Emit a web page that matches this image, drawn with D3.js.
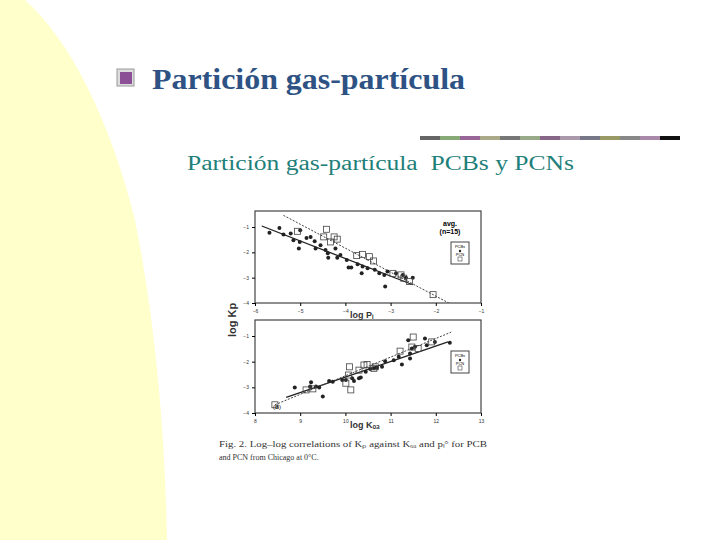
<!DOCTYPE html>
<html><head><meta charset="utf-8">
<script src="https://cdn.jsdelivr.net/npm/d3@7"></script>
<style>body{margin:0;background:#fff}</style>
</head><body>
<svg id="slide" width="720" height="540"></svg>
<script>
// top panel: log Kp vs log PL
var topDots = [[-5.68,-1.23],[-5.46,-1.04],[-5.37,-1.30],[-5.21,-1.26],[-5.15,-1.52],[-5.01,-1.59],[-5.03,-1.85],[-5.00,-1.13],
  [-4.86,-1.43],[-4.77,-1.39],[-4.68,-1.56],[-4.66,-1.85],[-4.55,-1.72],[-4.44,-1.91],[-4.39,-2.04],[-4.38,-2.21],[-4.22,-1.85],
  [-4.18,-2.21],[-4.11,-2.11],[-3.97,-2.30],[-3.93,-2.60],[-3.87,-2.60],[-3.73,-2.47],[-3.64,-2.83],[-3.62,-2.56],[-3.51,-2.63],
  [-3.35,-2.69],[-3.25,-2.83],[-3.14,-2.89],[-3.12,-3.35],[-3.07,-2.76],[-2.88,-2.83],[-2.73,-2.89],[-2.66,-3.00],[-2.51,-3.00]];
var topSquares = [[-5.06,-1.17],[-4.42,-1.09],[-4.48,-1.39],[-4.33,-1.59],[-4.25,-1.39],[-4.18,-1.48],[-3.75,-2.13],[-3.62,-2.08],
  [-3.47,-2.17],[-3.38,-2.34],[-2.95,-2.83],[-2.77,-2.89],[-2.71,-3.02],[-2.58,-3.15],[-2.06,-3.67]];
var topSolid = [[-5.85,-0.96],[-2.51,-3.28]];
var topDashed = [[-5.37,-0.54],[-1.65,-4.06]];
var topTicksX = [-6,-5,-4,-3,-2,-1];
var ticksY = [-1,-2,-3,-4];

// bottom panel: log Kp vs log KOA
var botDots = [[8.88,-3.01],[9.22,-2.97],[9.24,-2.80],[9.35,-2.97],[9.42,-3.01],[9.50,-3.36],[9.64,-2.75],[9.72,-2.78],[9.93,-2.71],
  [10.01,-2.71],[10.15,-2.65],[10.19,-2.75],[10.30,-2.65],[10.34,-2.62],[10.45,-2.39],[10.55,-2.29],[10.63,-2.26],[10.70,-2.24],
  [10.81,-2.20],[10.88,-1.98],[11.07,-1.94],[11.18,-1.81],[11.25,-2.11],[11.39,-1.17],[11.43,-1.68],[11.43,-1.88],[11.47,-1.49],
  [11.54,-1.42],[11.76,-1.10],[11.80,-1.36],[11.98,-1.23],[12.31,-1.26]];
var botSquares = [[8.44,-3.68],[9.13,-3.10],[9.28,-3.06],[10.01,-2.84],[10.07,-2.52],[10.12,-3.10],[10.09,-2.20],[10.30,-2.33],
  [10.41,-2.13],[10.48,-2.11],[10.63,-2.26],[10.66,-2.20],[11.21,-1.59],[11.50,-1.04],[11.47,-1.43],[11.61,-1.49],[11.91,-1.23]];
var botSolid = [[8.69,-3.39],[12.27,-1.23]];
var botDashed = [[8.44,-3.68],[12.34,-0.85]];
var botTicksX = [8,9,10,11,12,13];

var svg = d3.select("#slide");

// yellow curved band on the left
svg.append("path")
  .attr("d", "M0,0 L25,0 C70,40 110,120 135,220 C155,320 165,430 167,540 L0,540 Z")
  .attr("fill", "#ffffcc");

// bullet + title
svg.append("rect").attr("x", 117).attr("y", 69).attr("width", 17).attr("height", 17).attr("fill", "#ddd").attr("stroke", "#999");
svg.append("rect").attr("x", 120).attr("y", 72).attr("width", 12).attr("height", 12).attr("fill", "#8b4f96");
svg.append("text").attr("x", 152).attr("y", 89).text("Partición gas-partícula")
  .attr("font-family", "Liberation Serif").attr("font-weight", "bold").attr("font-size", 29).attr("fill", "#2d5283")
  .attr("textLength", 313).attr("lengthAdjust", "spacingAndGlyphs");

// decorative divider
var divColors = ["#666", "#8a7", "#969", "#aa8", "#777", "#9a8", "#868", "#a9a", "#778", "#996", "#888", "#a8a"];
svg.selectAll(".div").data(divColors).enter().append("rect")
  .attr("x", function(d, i) { return 420 + i * 20; }).attr("y", 136).attr("width", 20).attr("height", 4)
  .attr("fill", function(d) { return d; });
svg.append("rect").attr("x", 660).attr("y", 136).attr("width", 20).attr("height", 4).attr("fill", "#111");

svg.append("text").attr("x", 187).attr("y", 170).text("Partición gas-partícula\u00a0\u00a0PCBs y PCNs")
  .attr("font-family", "Liberation Serif").attr("font-size", 20).attr("fill", "#1f7f7a")
  .attr("textLength", 387).attr("lengthAdjust", "spacingAndGlyphs");

function panel(y0, y1, xDomain, xTicks, dots, squares, solid, dashed, xLabel) {
  var x = d3.scaleLinear().domain(xDomain).range([255, 481]);
  var y = d3.scaleLinear().domain([-1, -4]).range([y0, y1]);
  var top = y0 - 16;
  var g = svg.append("g");
  var clipId = "c" + y0;
  g.append("clipPath").attr("id", clipId).append("rect").attr("x", 255).attr("y", top).attr("width", 226).attr("height", y1 - top);
  g.append("rect").attr("x", 255).attr("y", top).attr("width", 226).attr("height", y1 - top)
    .attr("fill", "#fff").attr("stroke", "#444").attr("stroke-width", 1.2);
  g.append("g").attr("transform", "translate(0," + y1 + ")")
    .call(d3.axisBottom(x).tickValues(xTicks).tickSize(3).tickFormat(d3.format("d")))
    .call(function(a) { a.select(".domain").remove(); a.selectAll("text").attr("font-size", 5).attr("fill", "#333"); });
  g.append("g").attr("transform", "translate(255,0)")
    .call(d3.axisLeft(y).tickValues(ticksY).tickSize(3).tickFormat(d3.format("d")))
    .call(function(a) { a.select(".domain").remove(); a.selectAll("text").attr("font-size", 5).attr("fill", "#333"); });
  var line = d3.line().x(function(d) { return x(d[0]); }).y(function(d) { return y(d[1]); });
  var p = g.append("g").attr("clip-path", "url(#" + clipId + ")");
  p.append("path").attr("d", line(solid)).attr("stroke", "#222").attr("stroke-width", 1.3).attr("fill", "none");
  p.append("path").attr("d", line(dashed)).attr("stroke", "#444").attr("stroke-width", 1).attr("stroke-dasharray", "2,1.5").attr("fill", "none");
  p.selectAll(".dot").data(dots).enter().append("circle")
    .attr("cx", function(d) { return x(d[0]); }).attr("cy", function(d) { return y(d[1]); }).attr("r", 2).attr("fill", "#222");
  p.selectAll(".sq").data(squares).enter().append("rect")
    .attr("x", function(d) { return x(d[0]) - 3; }).attr("y", function(d) { return y(d[1]) - 3; })
    .attr("width", 6).attr("height", 6).attr("fill", "none").attr("stroke", "#444").attr("stroke-width", 0.8);
  // legend box
  g.append("rect").attr("x", 451).attr("y", y0 + 15).attr("width", 18).attr("height", 22).attr("fill", "#fff").attr("stroke", "#444");
  g.append("text").attr("x", 460).attr("y", y0 + 21).attr("text-anchor", "middle").attr("font-size", 4).attr("font-family", "Liberation Sans").text("PCBs");
  g.append("circle").attr("cx", 460).attr("cy", y0 + 24).attr("r", 1.2).attr("fill", "#222");
  g.append("text").attr("x", 460).attr("y", y0 + 29).attr("text-anchor", "middle").attr("font-size", 4).attr("font-family", "Liberation Sans").text("PCN");
  g.append("rect").attr("x", 458).attr("y", y0 + 30).attr("width", 4).attr("height", 4).attr("fill", "none").attr("stroke", "#444").attr("stroke-width", 0.6);
  g.append("text").attr("x", 350).attr("y", y1 + 15).attr("font-size", 9).attr("font-weight", "bold")
    .attr("font-family", "Liberation Sans").attr("fill", "#333").text(xLabel);
  return g;
}

panel(227, 303, [-6, -1], topTicksX, topDots, topSquares, topSolid, topDashed, "log Pₗ");
panel(336, 413, [8, 13], botTicksX, botDots, botSquares, botSolid, botDashed, "log Kₒₐ");

svg.append("text").attr("x", 450).attr("y", 226).attr("font-size", 7).attr("font-weight", "bold")
  .attr("font-family", "Liberation Sans").attr("text-anchor", "middle").text("avg.");
svg.append("text").attr("x", 450).attr("y", 234).attr("font-size", 7).attr("font-weight", "bold")
  .attr("font-family", "Liberation Sans").attr("text-anchor", "middle").text("(n=15)");
svg.append("text").attr("x", 273).attr("y", 409).attr("font-size", 6).attr("font-family", "Liberation Sans").text("(B)");

svg.append("text").attr("transform", "translate(236,320) rotate(-90)").attr("text-anchor", "middle")
  .attr("font-size", 11).attr("font-weight", "bold").attr("font-family", "Liberation Sans").attr("fill", "#333").text("log Kp");

svg.append("text").attr("x", 219).attr("y", 447).attr("font-size", 8).attr("font-family", "Liberation Serif").attr("fill", "#333")
  .attr("textLength", 268).attr("lengthAdjust", "spacingAndGlyphs")
  .text("Fig. 2. Log–log correlations of Kₚ against Kₒₐ and pₗ° for PCB");
svg.append("text").attr("x", 219).attr("y", 460).attr("font-size", 8).attr("font-family", "Liberation Serif").attr("fill", "#333")
  .text("and PCN from Chicago at 0°C.");
</script>
</body></html>
